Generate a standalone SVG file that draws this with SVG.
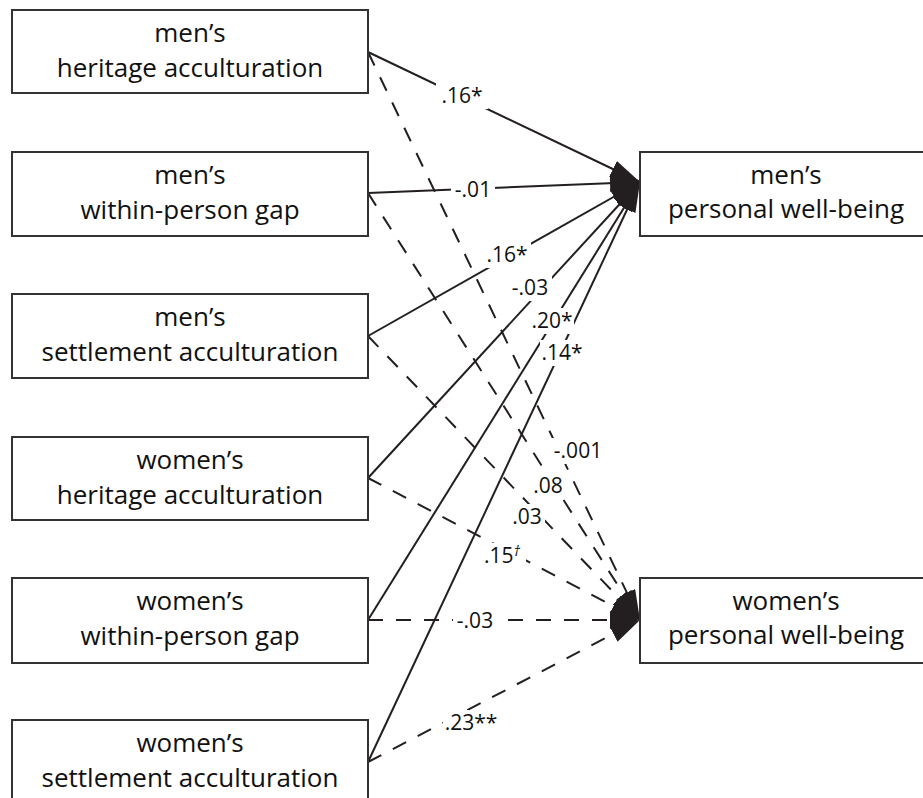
<svg xmlns="http://www.w3.org/2000/svg" width="923" height="798" viewBox="0 0 923 798">
<defs>
<style>
.box{fill:#fff;stroke:#333;stroke-width:2}
.nt{font-family:"Open Sans","Liberation Sans",sans-serif;font-size:26px;fill:#111;text-anchor:middle}
.ln{stroke:#231f20;stroke-width:2;fill:none;marker-end:url(#ah)}
.d{stroke-dasharray:15 13}
.lb{fill:#fff}
.lt{font-family:"Open Sans","Liberation Sans",sans-serif;font-size:21px;fill:#111;text-anchor:middle}
</style>
<marker id="ah" markerUnits="userSpaceOnUse" markerWidth="30" markerHeight="18" viewBox="0 0 30 18" refX="30" refY="9" orient="auto">
<path d="M0,0 L30,9 L0,18 z" fill="#231f20"/>
</marker>
</defs>
<rect width="923" height="798" fill="#fff"/>
<g id="connectors">
<line class="ln" x1="368" y1="52" x2="640" y2="182"/>
<line class="ln" x1="368" y1="193" x2="640" y2="182"/>
<line class="ln" x1="368" y1="336" x2="640" y2="182"/>
<line class="ln" x1="368" y1="478" x2="640" y2="182"/>
<line class="ln" x1="368" y1="620" x2="640" y2="182"/>
<line class="ln" x1="368" y1="762" x2="640" y2="182"/>
<line class="ln d" x1="368" y1="52" x2="640" y2="620"/>
<line class="ln d" x1="368" y1="193" x2="640" y2="620"/>
<line class="ln d" x1="368" y1="336" x2="640" y2="620"/>
<line class="ln d" x1="368" y1="478" x2="640" y2="620"/>
<line class="ln d" x1="368" y1="620" x2="640" y2="620"/>
<line class="ln d" x1="368" y1="762" x2="640" y2="620"/>
</g>
<g id="labels">
<rect class="lb" x="436" y="83" width="52" height="26"/><text class="lt" x="462" y="103">.16*</text>
<rect class="lb" x="451" y="177" width="44" height="26"/><text class="lt" x="473" y="197">-.01</text>
<rect class="lb" x="483" y="242" width="48" height="26"/><text class="lt" x="507" y="262">.16*</text>
<rect class="lb" x="508" y="275" width="44" height="26"/><text class="lt" x="530" y="295">-.03</text>
<rect class="lb" x="530" y="308" width="44" height="26"/><text class="lt" x="552" y="328">.20*</text>
<rect class="lb" x="540" y="340" width="44" height="26"/><text class="lt" x="562" y="360">.14*</text>
<rect class="lb" x="551" y="438" width="54" height="26"/><text class="lt" x="578" y="458">-.001</text>
<rect class="lb" x="530" y="473" width="36" height="26"/><text class="lt" x="548" y="493">.08</text>
<rect class="lb" x="509" y="504" width="36" height="26"/><text class="lt" x="527" y="524">.03</text>
<rect class="lb" x="482" y="543" width="44" height="26"/><text class="lt" x="502" y="563">.15<tspan font-size="14" font-style="italic" dy="-7">†</tspan></text>
<rect class="lb" x="453" y="608" width="44" height="26"/><text class="lt" x="475" y="628">-.03</text>
<rect class="lb" x="443" y="710" width="56" height="26"/><text class="lt" x="471" y="730">.23**</text>
</g>
<g id="n1"><rect class="box" x="12" y="10" width="356" height="83"/><text class="nt" x="190" y="42">men’s</text><text class="nt" x="190" y="77">heritage acculturation</text></g>
<g id="n2"><rect class="box" x="12" y="152" width="356" height="84"/><text class="nt" x="190" y="184">men’s</text><text class="nt" x="190" y="219">within-person gap</text></g>
<g id="n3"><rect class="box" x="12" y="294" width="356" height="84"/><text class="nt" x="190" y="326">men’s</text><text class="nt" x="190" y="361">settlement acculturation</text></g>
<g id="n4"><rect class="box" x="12" y="437" width="356" height="83"/><text class="nt" x="190" y="469">women’s</text><text class="nt" x="190" y="504">heritage acculturation</text></g>
<g id="n5"><rect class="box" x="12" y="578" width="356" height="85"/><text class="nt" x="190" y="610">women’s</text><text class="nt" x="190" y="645">within-person gap</text></g>
<g id="n6"><rect class="box" x="12" y="720" width="356" height="90"/><text class="nt" x="190" y="752">women’s</text><text class="nt" x="190" y="787">settlement acculturation</text></g>
<g id="n7"><rect class="box" x="640" y="152" width="292" height="84"/><text class="nt" x="786" y="184">men’s</text><text class="nt" x="786" y="218">personal well-being</text></g>
<g id="n8"><rect class="box" x="640" y="578" width="292" height="85"/><text class="nt" x="786" y="610">women’s</text><text class="nt" x="786" y="644">personal well-being</text></g>
</svg>
